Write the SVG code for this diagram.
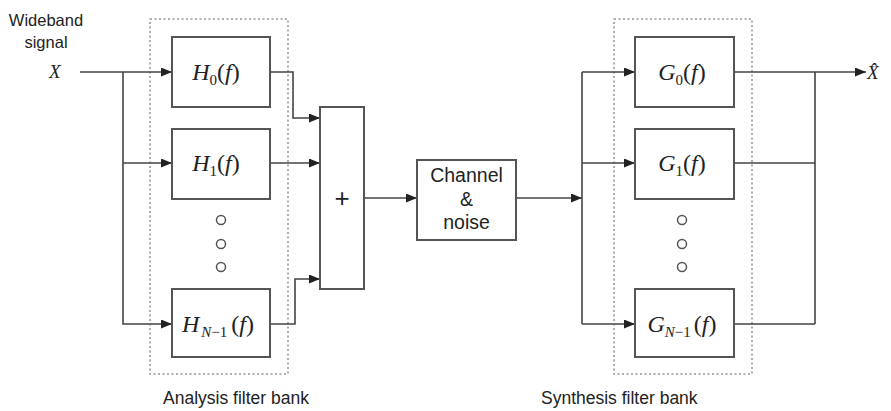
<svg xmlns="http://www.w3.org/2000/svg" width="891" height="411" viewBox="0 0 891 411">
<style>
.box{fill:#fff;stroke:#555;stroke-width:2}
.bank{fill:none;stroke:#999;stroke-width:1.6;stroke-dasharray:2 2.5}
.ln{fill:none;stroke:#444;stroke-width:1.6}
.dot{fill:#fff;stroke:#555;stroke-width:1.5}
.sans{font-family:"Liberation Sans",Arial,sans-serif;fill:#222}
.math{font-family:"Liberation Serif","Times New Roman",serif;font-size:24px;fill:#222}
.it{font-style:italic}
.sub{font-size:15px}
</style>
<defs>
<marker id="ah" markerWidth="11" markerHeight="9" refX="11" refY="4.5" orient="auto" markerUnits="userSpaceOnUse">
<path d="M0,0 L11,4.5 L0,9 z" fill="#222"/>
</marker>
</defs>

<g id="labels">
<text class="sans" x="46" y="26" style="font-size:16.5px" text-anchor="middle">Wideband</text>
<text class="sans" x="46" y="48" style="font-size:16.5px" text-anchor="middle">signal</text>
<text class="math it" x="49" y="78" style="font-size:19px">X</text>
<text class="math it" x="867" y="79" style="font-size:19px">X̂</text>
<text class="sans" x="163" y="404" style="font-size:17.5px">Analysis filter bank</text>
<text class="sans" x="541" y="404" style="font-size:17.5px">Synthesis filter bank</text>
</g>

<g id="analysis-bank"><rect class="bank" x="150" y="19" width="138" height="355"/></g>
<g id="synthesis-bank"><rect class="bank" x="614" y="19" width="138" height="355"/></g>

<g id="connectors">
<path class="ln" d="M80,72 H172" marker-end="url(#ah)"/>
<path class="ln" d="M123,72 V324 H172" marker-end="url(#ah)"/>
<path class="ln" d="M123,163 H172" marker-end="url(#ah)"/>
<path class="ln" d="M270,72 H293 V118 H320" marker-end="url(#ah)"/>
<path class="ln" d="M270,163 H320" marker-end="url(#ah)"/>
<path class="ln" d="M270,324 H295 V279 H320" marker-end="url(#ah)"/>
<path class="ln" d="M364,198 H417" marker-end="url(#ah)"/>
<path class="ln" d="M516,198 H582" marker-end="url(#ah)"/>
<path class="ln" d="M582,72 V324"/>
<path class="ln" d="M582,72 H635" marker-end="url(#ah)"/>
<path class="ln" d="M582,163 H635" marker-end="url(#ah)"/>
<path class="ln" d="M582,324 H635" marker-end="url(#ah)"/>
<path class="ln" d="M734,72 H866" marker-end="url(#ah)"/>
<path class="ln" d="M734,163 H815 M734,324 H815 M815,72 V324"/>
</g>

<g id="H0">
<rect class="box" x="172" y="37" width="98" height="70"/>
<text class="math" x="216" y="80" text-anchor="middle"><tspan class="it">H</tspan><tspan class="sub" dy="5">0</tspan><tspan dy="-5">(</tspan><tspan class="it">f</tspan>)</text>
</g>
<g id="H1">
<rect class="box" x="172" y="129" width="98" height="70"/>
<text class="math" x="216" y="171" text-anchor="middle"><tspan class="it">H</tspan><tspan class="sub" dy="5">1</tspan><tspan dy="-5">(</tspan><tspan class="it">f</tspan>)</text>
</g>
<g id="Hdots">
<circle class="dot" cx="221" cy="220" r="4.5"/>
<circle class="dot" cx="221" cy="244" r="4.5"/>
<circle class="dot" cx="221" cy="267" r="4.5"/>
</g>
<g id="HN1">
<rect class="box" x="172" y="289" width="98" height="68"/>
<text class="math" x="218" y="332" text-anchor="middle"><tspan class="it">H</tspan><tspan class="sub it" dy="5" dx="2">N</tspan><tspan class="sub">−1</tspan><tspan dy="-5" dx="4">(</tspan><tspan class="it">f</tspan>)</text>
</g>

<g id="sum">
<rect class="box" x="320" y="107" width="44" height="182"/>
<text class="sans" x="342" y="207" style="font-size:26px" text-anchor="middle">+</text>
</g>

<g id="channel">
<rect class="box" x="417" y="160" width="99" height="80"/>
<text class="sans" x="466.5" y="182" style="font-size:19.5px" text-anchor="middle">Channel</text>
<text class="sans" x="466.5" y="206" style="font-size:19.5px" text-anchor="middle">&amp;</text>
<text class="sans" x="466.5" y="229" style="font-size:19.5px" text-anchor="middle">noise</text>
</g>

<g id="G0">
<rect class="box" x="635" y="37" width="99" height="70"/>
<text class="math" x="682" y="80" text-anchor="middle"><tspan class="it">G</tspan><tspan class="sub" dy="5">0</tspan><tspan dy="-5">(</tspan><tspan class="it">f</tspan>)</text>
</g>
<g id="G1">
<rect class="box" x="635" y="129" width="99" height="70"/>
<text class="math" x="682" y="171" text-anchor="middle"><tspan class="it">G</tspan><tspan class="sub" dy="5">1</tspan><tspan dy="-5">(</tspan><tspan class="it">f</tspan>)</text>
</g>
<g id="Gdots">
<circle class="dot" cx="682" cy="220" r="4.5"/>
<circle class="dot" cx="682" cy="244" r="4.5"/>
<circle class="dot" cx="682" cy="267" r="4.5"/>
</g>
<g id="GN1">
<rect class="box" x="635" y="289" width="99" height="68"/>
<text class="math" x="682" y="332" text-anchor="middle"><tspan class="it">G</tspan><tspan class="sub it" dy="5">N</tspan><tspan class="sub">−1</tspan><tspan dy="-5" dx="3">(</tspan><tspan class="it">f</tspan>)</text>
</g>
</svg>
